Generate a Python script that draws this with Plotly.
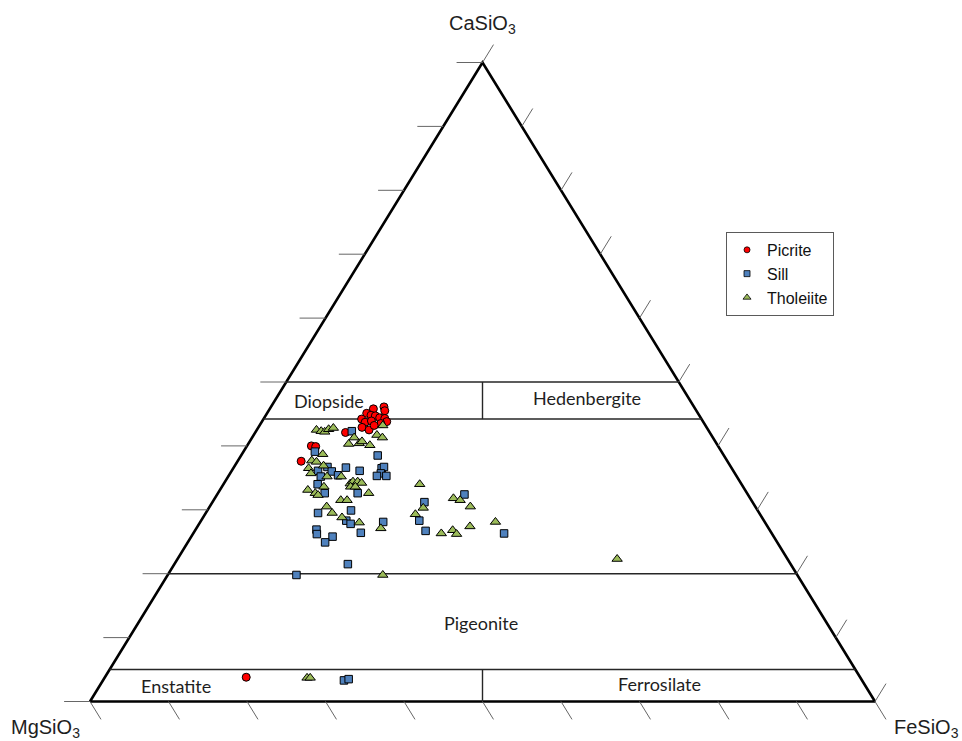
import plotly.graph_objects as go

# Pyroxene compositions in mol % (Wo = CaSiO3, En = MgSiO3, Fs = FeSiO3)
picrite_wo = [45.8, 46.1, 45.5, 45.1, 44.8, 44.7, 44.4, 44.3, 43.8, 44.2, 43.7, 43.9, 43.5, 42.9,
              42.5, 43.2, 42.1, 40.0, 39.9, 37.6, 3.8]
picrite_fs = [13.2, 14.4, 14.8, 12.7, 13.4, 14.0, 14.7, 15.4, 15.9, 12.5, 13.2, 13.9, 15.3, 13.2,
              14.3, 14.6, 11.5, 8.2, 8.8, 8.1, 18.0]

sill_wo = [42.3, 39.1, 38.5, 36.7, 36.0, 35.4, 36.6, 36.1, 36.1, 35.2, 34.0, 32.6, 36.5, 36.7,
           35.7, 35.3, 35.3, 32.6, 29.9, 29.5, 28.3, 27.8, 26.4, 28.1, 26.9, 26.2, 25.8, 24.9,
           21.5, 19.8, 32.4, 31.2, 28.3, 26.7, 26.3, 3.3, 3.5]
sill_fs = [12.2, 9.1, 17.4, 11.9, 12.8, 13.9, 14.3, 16.3, 11.0, 11.8, 12.0, 13.6, 18.9, 19.1,
           19.2, 20.1, 18.9, 17.8, 18.3, 14.3, 18.5, 19.3, 21.3, 23.3, 15.4, 15.8, 18.0, 17.5,
           22.1, 16.4, 31.5, 27.0, 27.8, 29.4, 39.6, 30.7, 31.2]

tholeiite_wo = [42.5, 42.3, 42.2, 42.6, 42.8, 41.3, 40.3, 40.4, 40.7, 40.1, 41.7, 41.3, 43.2,
                38.7, 37.7, 37.5, 36.5, 35.7, 36.9, 35.2, 35.2, 34.1, 34.4, 34.4, 34.2, 33.6,
                33.6, 32.6, 33.1, 32.6, 32.3, 33.6, 31.5, 31.5, 30.5, 29.5, 28.8, 28.0, 27.1,
                19.8, 34.0, 31.8, 31.5, 30.5, 30.3, 29.3, 28.1, 27.4, 26.8, 26.2, 26.3, 22.3,
                3.7, 3.7]
tholeiite_fs = [7.6, 8.3, 8.8, 9.1, 9.6, 13.0, 12.8, 14.1, 14.3, 15.6, 15.7, 16.6, 15.7,
                10.3, 9.4, 10.1, 9.6, 10.3, 11.3, 12.6, 14.4, 16.1, 16.3, 16.9, 17.5, 16.4,
                17.0, 19.2, 11.2, 12.4, 12.9, 13.0, 16.2, 17.0, 14.9, 16.1, 17.7, 20.3, 23.5,
                27.4, 25.0, 30.4, 31.4, 33.2, 27.3, 26.8, 37.6, 34.7, 32.8, 33.6, 31.6, 56.0,
                25.8, 26.2]

# Diagram framework
tick_values = list(range(0, 101, 10))
field_boundaries_wo = [50, 44.2, 20, 5]
split_ranges_wo = [(44.2, 50), (0, 5)]


def to_xy(wo, fs):
    """Project a Wo–Fs composition onto the plane of the triangle."""
    return fs + wo / 2.0, wo


def project(wo_list, fs_list):
    pts = [to_xy(w, f) for w, f in zip(wo_list, fs_list)]
    return [p[0] for p in pts], [p[1] for p in pts]


fig = go.Figure()

# Outer triangle (Mg – Fe – Ca corners)
corners = [(0, 0), (0, 100), (100, 0)]  # (Wo, Fs) of MgSiO3, FeSiO3, CaSiO3
tri_x, tri_y = project([c[0] for c in corners] + [0], [c[1] for c in corners] + [0])
fig.add_trace(go.Scatter(x=tri_x, y=tri_y, mode="lines",
                         line=dict(color="black", width=2.6),
                         hoverinfo="skip", showlegend=False))

# Field boundaries (constant Wo) and En = Fs splits
bx, by = [], []
for wo in field_boundaries_wo:
    x0, y0 = to_xy(wo, 0)
    x1, y1 = to_xy(wo, 100 - wo)
    bx += [x0, x1, None]
    by += [y0, y1, None]
for lo, hi in split_ranges_wo:
    for wo in (lo, hi):
        x, y = to_xy(wo, (100 - wo) / 2)
        bx.append(x)
        by.append(y)
    bx.append(None)
    by.append(None)
fig.add_trace(go.Scatter(x=bx, y=by, mode="lines",
                         line=dict(color="#262626", width=1.4),
                         hoverinfo="skip", showlegend=False))

# Axis ticks: left edge horizontal, bottom edge parallel to right edge,
# right edge parallel to left edge
tick_len_left = 3.3
tick_len_edge = 0.028
tx, ty = [], []
for v in tick_values:
    # CaSiO3 ticks on the Mg–Ca edge
    x, y = to_xy(v, 0)
    tx += [x, x - tick_len_left, None]
    ty += [y, y, None]
    # FeSiO3 ticks on the Mg–Fe edge
    x, y = to_xy(0, v)
    tx += [x, x + 50 * tick_len_edge, None]
    ty += [y, y - 100 * tick_len_edge, None]
    # ticks on the Ca–Fe edge
    x, y = to_xy(v, 100 - v)
    tx += [x, x + 50 * tick_len_edge, None]
    ty += [y, y + 100 * tick_len_edge, None]
fig.add_trace(go.Scatter(x=tx, y=ty, mode="lines",
                         line=dict(color="#666666", width=1),
                         hoverinfo="skip", showlegend=False))

# Sample series; each has a small-symbol legend entry in the same legend group
marker_line = dict(color="black", width=1)
series = [
    ("Picrite", "p", picrite_wo, picrite_fs, "circle", 8, 6, "#ff0000"),
    ("Sill", "s", sill_wo, sill_fs, "square", 7.5, 6, "#4f81bd"),
    ("Tholeiite", "t", tholeiite_wo, tholeiite_fs, "triangle-up", 9, 7, "#9bbb59"),
]
for name, group, wo, fs, symbol, size, legend_size, color in series:
    x, y = project(wo, fs)
    fig.add_trace(go.Scatter(x=x, y=y, mode="markers", name=name, legendgroup=group,
                             showlegend=False,
                             marker=dict(symbol=symbol, size=size, color=color, line=marker_line)))
    fig.add_trace(go.Scatter(x=[None], y=[None], mode="markers", name=name, legendgroup=group,
                             showlegend=True, hoverinfo="skip",
                             marker=dict(symbol=symbol, size=legend_size, color=color,
                                         line=dict(color="black", width=0.8))))

annotations = []
# Corner labels
corner_font = dict(family="Liberation Sans, Arial", size=20, color="#1e1e1e")
for text, x, y in [("CaSiO<sub>3</sub>", 50, 105.9),
                   ("MgSiO<sub>3</sub>", -5.7, -4.3),
                   ("FeSiO<sub>3</sub>", 106.6, -4.3)]:
    annotations.append(dict(x=x, y=y, text=text, showarrow=False, font=corner_font,
                            xanchor="center", yanchor="middle"))

# Pyroxene field names, placed by composition (Wo, Fs)
field_font = dict(family="Lato, Open Sans", size=18, color="#1e1e1e")
for text, wo, fs in [("Diopside", 47.0, 6.9),
                     ("Hedenbergite", 47.5, 39.6),
                     ("Pigeonite", 12.3, 43.7),
                     ("Enstatite", 2.4, 9.8),
                     ("Ferrosilate", 2.7, 71.2)]:
    x, y = to_xy(wo, fs)
    annotations.append(dict(x=x, y=y, text=text, showarrow=False, font=field_font,
                            xanchor="center", yanchor="middle"))

fig.update_layout(
    width=962, height=741,
    margin=dict(l=0, r=0, t=0, b=0),
    paper_bgcolor="white", plot_bgcolor="white",
    xaxis=dict(range=[-11.465, 111.083], visible=False, fixedrange=True),
    yaxis=dict(range=[-6.182, 109.781], visible=False, fixedrange=True),
    annotations=annotations,
    showlegend=True,
    legend=dict(x=0.7547, y=0.687, xanchor="left", yanchor="top",
                bordercolor="#5a5a5a", borderwidth=1, bgcolor="white",
                font=dict(family="Liberation Sans, Arial", size=16, color="#111111"),
                traceorder="grouped", tracegroupgap=0, itemwidth=30),
)

fig.write_html("out.html")
